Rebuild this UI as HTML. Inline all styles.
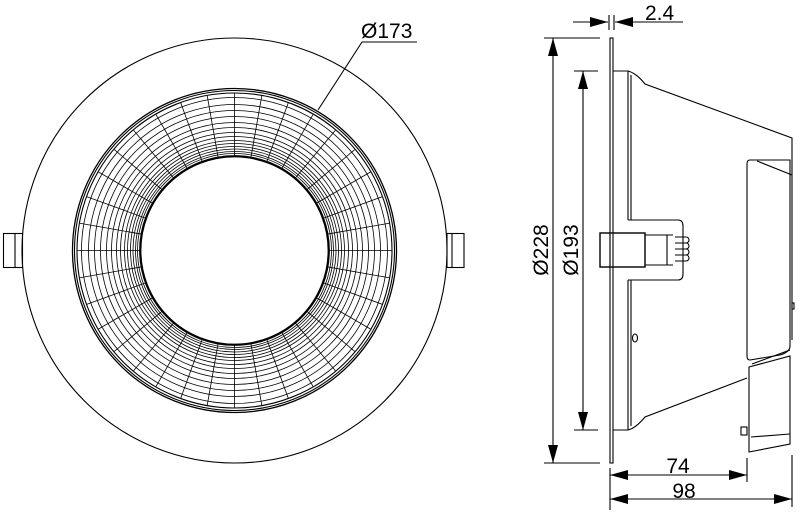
<!DOCTYPE html>
<html><head><meta charset="utf-8"><style>
html,body{margin:0;padding:0;background:#fff;width:800px;height:517px;overflow:hidden}
svg{display:block}
text{font-family:"Liberation Sans",sans-serif;font-size:21px;fill:#000}
</style></head><body>
<svg id="s" width="800" height="517" viewBox="0 0 800 517" xmlns="http://www.w3.org/2000/svg" fill="none" stroke="#000" stroke-width="1.1">
<defs>
<marker id="a" viewBox="0 0 10 10" refX="10" refY="5" markerWidth="18" markerHeight="10" orient="auto-start-reverse" markerUnits="userSpaceOnUse" preserveAspectRatio="none"><path d="M0,0L10,5L0,10z" fill="#000" stroke="none"/></marker>
</defs>
<!-- front view -->
<circle cx="234.5" cy="250.5" r="212.5"/>
<g id="grid"></g>
<circle cx="234.5" cy="250.5" r="162" stroke-width="1.3"/>
<circle cx="234.5" cy="250.5" r="160"/>
<circle cx="234.5" cy="250.5" r="157.5"/>
<circle cx="234.5" cy="250.5" r="94" stroke-width="1.8"/>
<rect x="3.5" y="233.5" width="19" height="34"/><line x1="15" y1="233.5" x2="15" y2="267.5"/>
<rect x="447" y="233.5" width="17" height="34"/><line x1="452" y1="233.5" x2="452" y2="267.5"/>
<polyline points="318,110 362,42 417,42"/>
<text x="361" y="38" stroke="none">Ø173</text>
<!-- side view -->
<rect x="610" y="38" width="3" height="425"/>
<path d="M613,71H628Q636,73 645,84L792,138V175M613,430H628Q636,428 645,417L747,378"/>
<line x1="628" y1="71" x2="628" y2="220"/><line x1="631" y1="75" x2="631" y2="220"/>
<line x1="628" y1="280" x2="628" y2="430"/><line x1="631" y1="280" x2="631" y2="426"/>
<path d="M628,220H678Q683,220 683,226V274Q683,280 678,280H628"/>
<rect x="600" y="233" width="45" height="34" stroke-width="1.4"/><line x1="610" y1="233" x2="610" y2="267"/>
<line x1="645" y1="235" x2="673" y2="235"/><line x1="645" y1="265" x2="673" y2="265"/>
<line x1="667" y1="235" x2="667" y2="265"/>
<path d="M675,237h11a3,3 0 0 1 0,6h-11M675,243h11a3,3 0 0 1 0,6h-11M675,249h11a3,3 0 0 1 0,6h-11M675,255h11a3,3 0 0 1 0,6h-11"/>
<path d="M750,160H790V346Q790,352 780,355L750,360Q747,360 747,356V164Q747,160 750,160Z"/>
<line x1="757" y1="161" x2="792" y2="175"/>
<line x1="792" y1="175" x2="792" y2="340"/>
<path d="M749,367L790,356V444L749,452V367Z"/>
<line x1="752" y1="364" x2="790" y2="350"/>
<line x1="751" y1="437" x2="790" y2="434"/>
<rect x="741" y="427" width="6" height="8"/>
<rect x="792" y="303" width="2" height="6"/>
<ellipse cx="635" cy="338" rx="2.5" ry="4"/>
<!-- dimensions -->
<line x1="573" y1="22" x2="608" y2="22" marker-end="url(#a)"/>
<line x1="683" y1="22" x2="615" y2="22" marker-end="url(#a)"/>
<line x1="609" y1="15" x2="609" y2="30"/><line x1="614" y1="15" x2="614" y2="30"/>
<text x="645" y="20" stroke="none">2.4</text>
<line x1="544" y1="38" x2="600" y2="38"/><line x1="544" y1="463" x2="600" y2="463"/>
<line x1="553" y1="38" x2="553" y2="463" marker-start="url(#a)" marker-end="url(#a)"/>
<line x1="574" y1="71" x2="598" y2="71"/><line x1="574" y1="430" x2="598" y2="430"/>
<line x1="583" y1="71" x2="583" y2="430" marker-start="url(#a)" marker-end="url(#a)"/>
<text transform="translate(548,250) rotate(-90)" text-anchor="middle" stroke="none">Ø228</text>
<text transform="translate(578,250) rotate(-90)" text-anchor="middle" stroke="none">Ø193</text>
<line x1="610" y1="468" x2="610" y2="510"/><line x1="747" y1="458" x2="747" y2="482"/><line x1="792" y1="455" x2="792" y2="507"/>
<line x1="610" y1="475" x2="747" y2="475" marker-start="url(#a)" marker-end="url(#a)"/>
<line x1="610" y1="499" x2="792" y2="499" marker-start="url(#a)" marker-end="url(#a)"/>
<text x="678" y="473" text-anchor="middle" stroke="none">74</text>
<text x="684" y="498" text-anchor="middle" stroke="none">98</text>
</svg>
<script>
var g=document.getElementById('grid'),cx=234.5,cy=250.5,h='';
var radii=[95,97,99,101.5,104,107,110,114,118,123,128,134,140,146,153];
radii.forEach(function(r){h+='<circle cx="'+cx+'" cy="'+cy+'" r="'+r+'" stroke-width="0.8"/>';});
for(var i=0;i<36;i++){var t=i*Math.PI/18;var c=Math.cos(t),s=Math.sin(t);
h+='<line x1="'+(cx+94*c)+'" y1="'+(cy+94*s)+'" x2="'+(cx+157*c)+'" y2="'+(cy+157*s)+'" stroke-width="0.8"/>';}
g.innerHTML=h;
</script>
</body></html>
